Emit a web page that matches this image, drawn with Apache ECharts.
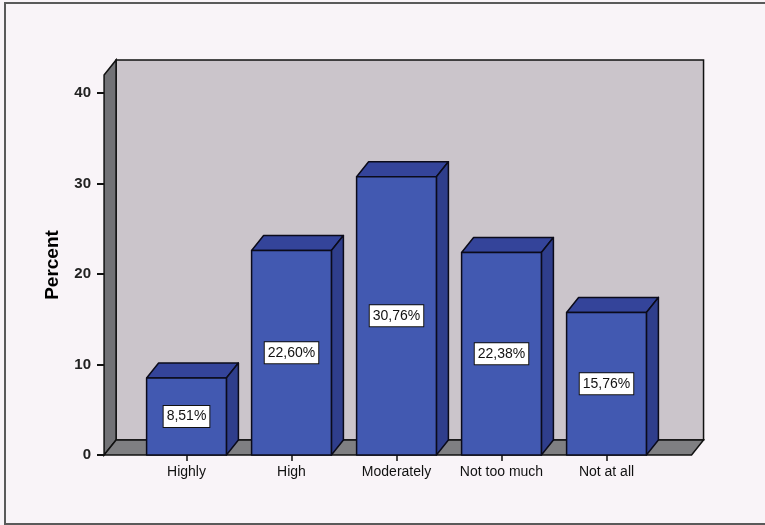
<!DOCTYPE html>
<html>
<head>
<meta charset="utf-8">
<script src="https://cdn.jsdelivr.net/npm/echarts@6/dist/echarts.min.js"></script>
<style>
  html, body { margin: 0; padding: 0; background: #f9f4f8; }
  #chart { width: 765px; height: 525px; }
  .frame { position: absolute; left: 4px; top: 2px; width: 765px; height: 519px; border: 2px solid #5a5a5a; border-right: none; pointer-events: none; }
</style>
</head>
<body>
<div id="chart"></div>
<div class="frame"></div>
<script>
const categories = ['Highly', 'High', 'Moderately', 'Not too much', 'Not at all'];
const percents = [8.51, 22.60, 30.76, 22.38, 15.76];
const yTicks = [0, 10, 20, 30, 40];

// depth of the fake 3d, in px
const DX = 12, DY = 15;

const chart = echarts.init(document.getElementById('chart'));

function fmt(v) {
  return v.toFixed(2).replace('.', ',') + '%';
}

function renderWalls(params, api) {
  const band = api.size([1, 0])[0];
  const c0 = api.coord([0, 0]);
  const top = api.coord([0, 42])[1];
  const left = c0[0] - 0.785 * band;
  const right = c0[0] + 4.81 * band;
  const bottom = c0[1];
  const line = { stroke: '#111', lineWidth: 1.5 };
  return {
    type: 'group',
    children: [
      { type: 'polygon', shape: { points: [[left + DX, top - DY], [right + DX, top - DY], [right + DX, bottom - DY], [left + DX, bottom - DY]] },
        style: Object.assign({ fill: '#cbc5cb' }, line) },
      { type: 'polygon', shape: { points: [[left, top], [left + DX, top - DY], [left + DX, bottom - DY], [left, bottom]] },
        style: Object.assign({ fill: '#727276' }, line) },
      { type: 'polygon', shape: { points: [[left, bottom], [left + DX, bottom - DY], [right + DX, bottom - DY], [right, bottom]] },
        style: Object.assign({ fill: '#7f7f82' }, line) }
    ]
  };
}

function renderBar(params, api) {
  const i = api.value(0);
  const v = api.value(1);
  const band = api.size([1, 0])[0];
  const bw = band * 0.76;
  const t = api.coord([i, v]);
  const b = api.coord([i, 0]);
  const x0 = t[0] - bw / 2, x1 = t[0] + bw / 2;
  const y0 = t[1], y1 = b[1];
  const line = { stroke: '#0b0b1a', lineWidth: 1.5, lineJoin: 'round' };
  return {
    type: 'group',
    children: [
      { type: 'polygon', shape: { points: [[x0, y0], [x0 + DX, y0 - DY], [x1 + DX, y0 - DY], [x1, y0]] },
        style: Object.assign({ fill: '#34449a' }, line) },
      { type: 'polygon', shape: { points: [[x1, y0], [x1 + DX, y0 - DY], [x1 + DX, y1 - DY], [x1, y1]] },
        style: Object.assign({ fill: '#2f3e8c' }, line) },
      { type: 'rect', shape: { x: x0, y: y0, width: bw, height: y1 - y0 },
        style: Object.assign({ fill: '#4259b1' }, line) },
      { type: 'text', x: t[0], y: (y0 + y1) / 2,
        style: { text: fmt(v), fill: '#111', font: '14px "Liberation Sans", Arial, sans-serif',
          align: 'center', verticalAlign: 'middle', backgroundColor: '#fff',
          borderColor: '#111', borderWidth: 1, padding: [4, 3, 3, 3] } }
    ]
  };
}

const option = {
  backgroundColor: '#f9f4f8',
  animation: false,
  grid: { left: 134, right: 106, top: 75, bottom: 70 },
  xAxis: {
    type: 'category',
    data: categories,
    axisLine: { show: false },
    axisTick: { show: true, alignWithLabel: true, length: 6, lineStyle: { color: '#111', width: 1.5 } },
    axisLabel: { interval: 0, color: '#111', fontSize: 14, fontFamily: '"Liberation Sans", Arial, sans-serif', margin: 10 },
    splitLine: { show: false }
  },
  yAxis: {
    type: 'value',
    min: 0,
    max: 42,
    interval: 10,
    offset: 30,
    name: 'Percent',
    nameLocation: 'middle',
    nameGap: 42,
    nameTextStyle: { color: '#000', fontSize: 19, fontWeight: 'bold', fontFamily: '"Liberation Sans", Arial, sans-serif' },
    axisLine: { show: false },
    axisTick: { show: true, length: 7, customValues: yTicks, lineStyle: { color: '#111', width: 2 } },
    axisLabel: { color: '#222', fontSize: 15, fontWeight: 'bold', fontFamily: '"Liberation Sans", Arial, sans-serif', margin: 13, customValues: yTicks },
    splitLine: { show: false }
  },
  series: [
    { type: 'custom', z: 1, silent: true, data: [[0, 0]], renderItem: renderWalls },
    { type: 'custom', z: 2, data: percents.map((p, i) => [i, p]), renderItem: renderBar }
  ]
};

chart.setOption(option);
</script>
</body>
</html>
